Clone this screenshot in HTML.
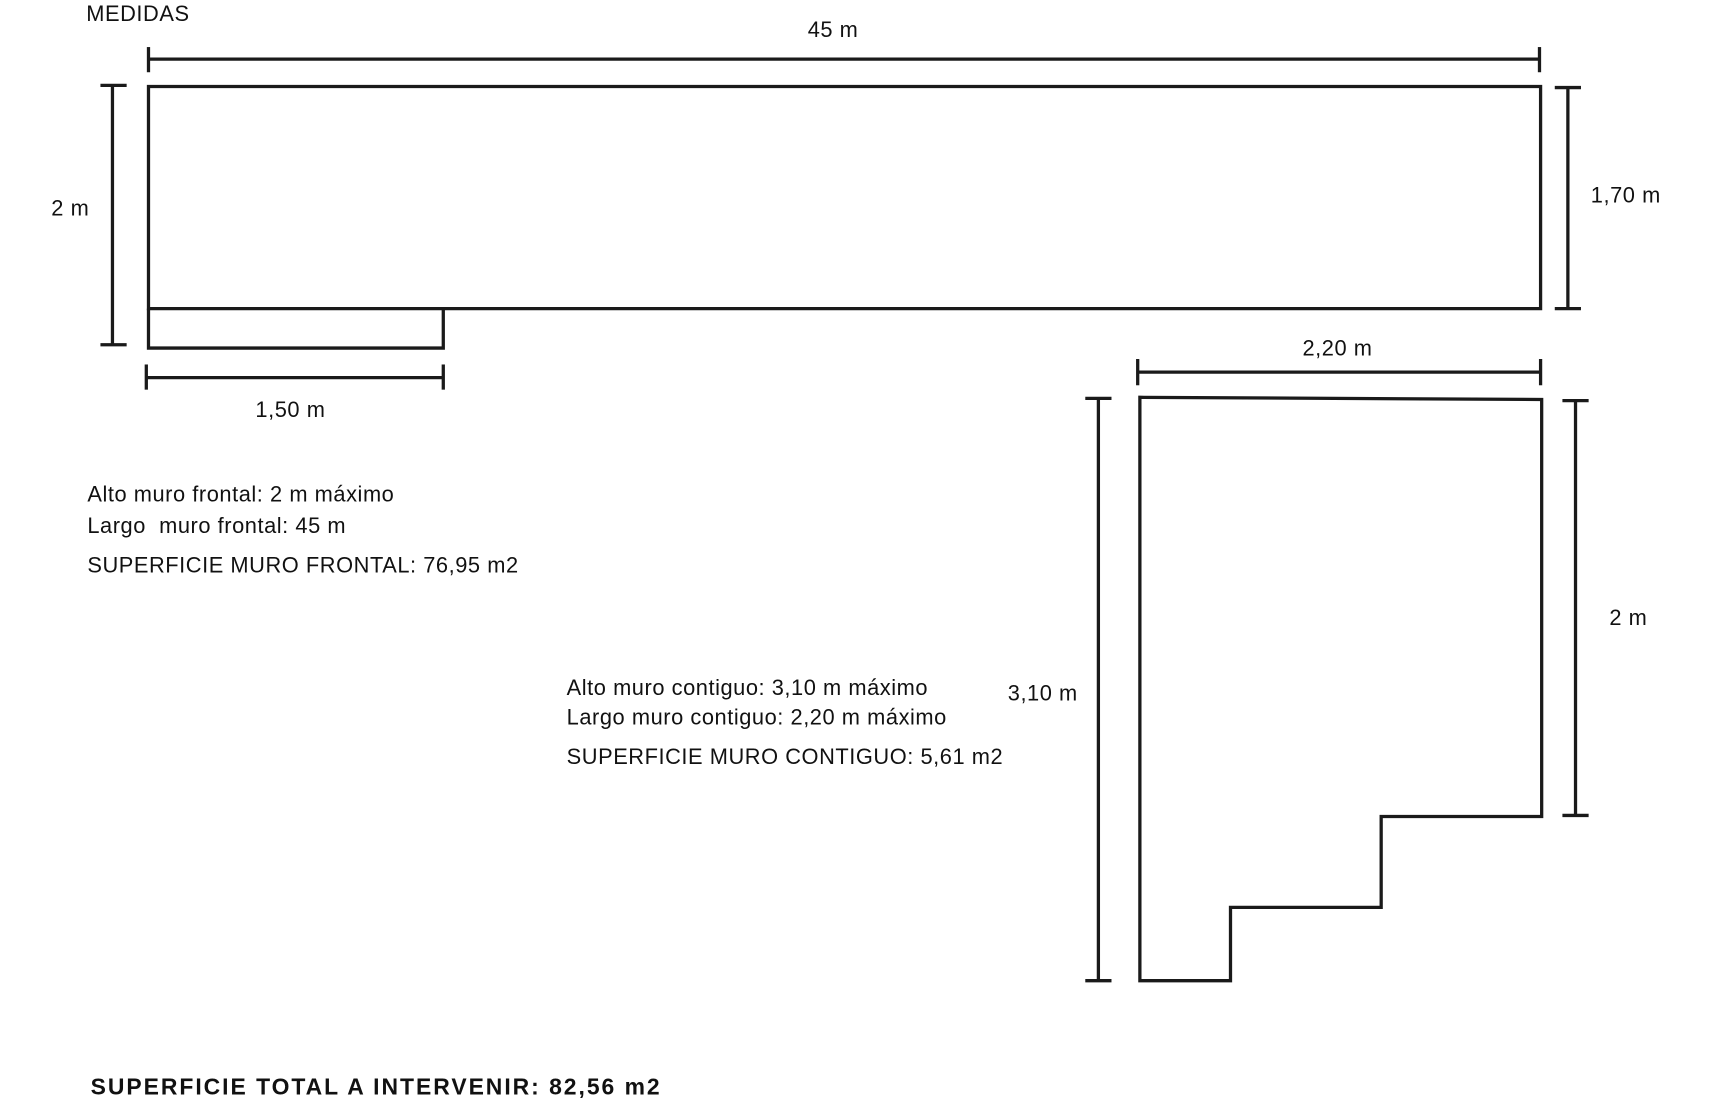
<!DOCTYPE html>
<html><head><meta charset="utf-8"><style>
html,body{margin:0;padding:0;background:#fff;width:1712px;height:1100px;overflow:hidden}
svg{display:block}
text{font-family:"Liberation Sans",sans-serif;fill:#111;font-size:20px;letter-spacing:0.5px}
</style></head><body>
<svg width="1712" height="1100" viewBox="0 0 1568 1005" preserveAspectRatio="none">
<g stroke="#1a1a1a" stroke-width="3" fill="none">
<line x1="136" y1="54" x2="1410" y2="54"/><line x1="136" y1="43" x2="136" y2="66"/><line x1="1410" y1="43" x2="1410" y2="66"/>
<polygon points="136,79 1411,79 1411,282 136,282"/>
<polyline points="136,282 136,318 406,318 406,282"/>
<line x1="103" y1="78" x2="103" y2="315"/><line x1="92" y1="78" x2="116" y2="78"/><line x1="92" y1="315" x2="116" y2="315"/>
<line x1="1436" y1="80" x2="1436" y2="282"/><line x1="1424" y1="80" x2="1448" y2="80"/><line x1="1424" y1="282" x2="1448" y2="282"/>
<line x1="134" y1="345" x2="406" y2="345"/><line x1="134" y1="333" x2="134" y2="356"/><line x1="406" y1="333" x2="406" y2="356"/>
<line x1="1042" y1="340" x2="1411" y2="340"/><line x1="1042" y1="328" x2="1042" y2="352"/><line x1="1411" y1="328" x2="1411" y2="352"/>
<polygon points="1044,363 1412,365 1412,746 1265,746 1265,829 1127,829 1127,896 1044,896"/>
<line x1="1006" y1="364" x2="1006" y2="896"/><line x1="994" y1="364" x2="1018" y2="364"/><line x1="994" y1="896" x2="1018" y2="896"/>
<line x1="1443" y1="366" x2="1443" y2="745"/><line x1="1431" y1="366" x2="1455" y2="366"/><line x1="1431" y1="745" x2="1455" y2="745"/>
</g>
<text x="79" y="19">MEDIDAS</text>
<text x="763" y="34" text-anchor="middle">45 m</text>
<text x="47" y="197">2 m</text>
<text x="1457" y="185">1,70 m</text>
<text x="266" y="381" text-anchor="middle">1,50 m</text>
<text x="80" y="458">Alto muro frontal: 2 m máximo</text>
<text x="80" y="487" xml:space="preserve">Largo  muro frontal: 45 m</text>
<text x="80" y="523">SUPERFICIE MURO FRONTAL: 76,95 m2</text>
<text x="1225" y="325" text-anchor="middle">2,20 m</text>
<text x="923" y="640">3,10 m</text>
<text x="1474" y="571">2 m</text>
<text x="519" y="635">Alto muro contiguo: 3,10 m máximo</text>
<text x="519" y="662">Largo muro contiguo: 2,20 m máximo</text>
<text x="519" y="698">SUPERFICIE MURO CONTIGUO: 5,61 m2</text>
<text x="83" y="1000" style="font-weight:bold;font-size:21px;letter-spacing:1.8px">SUPERFICIE TOTAL A INTERVENIR: 82,56 m2</text>
</svg>
</body></html>
